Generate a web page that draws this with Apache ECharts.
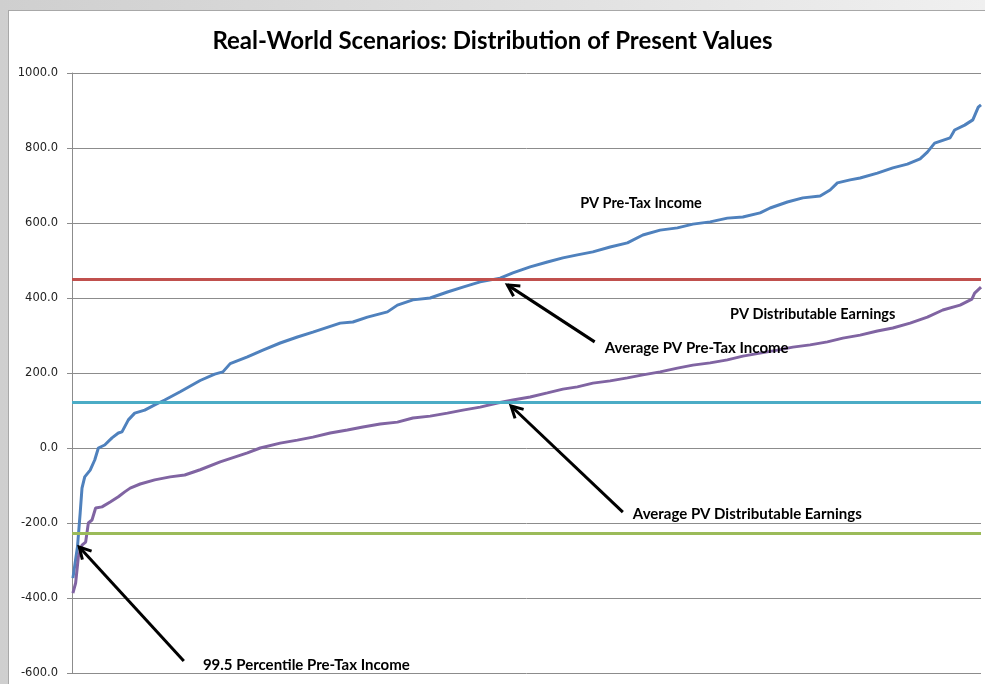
<!DOCTYPE html>
<html>
<head>
<meta charset="utf-8">
<script src="https://cdn.jsdelivr.net/npm/echarts@6/dist/echarts.min.js"></script>
<style>
  html, body { margin: 0; padding: 0; width: 985px; height: 684px; overflow: hidden; }
  body { background: linear-gradient(to right, #cfcfcf 0%, #e2e2e2 60%, #f0f0f0 100%); position: relative; }
  #frame { position: absolute; left: 8px; top: 10px; width: 1000px; height: 700px; background: #ffffff; border: 1px solid #a8a8a8; box-sizing: border-box; }
  #chart { position: absolute; left: 0; top: 0; width: 985px; height: 684px; }
</style>
</head>
<body>
<div id="frame"></div>
<div id="chart"></div>
<script>
// ---- data ----
const titleText = 'Real-World Scenarios: Distribution of Present Values';
const yTicks = [-600, -400, -200, 0, 200, 400, 600, 800, 1000];

// PV Pre-Tax Income, sorted scenarios (scenario rank, value)
const preTaxRank = [1, 6, 9, 11, 14, 20, 25, 29, 36, 44, 51, 55, 62, 69, 80, 91, 102, 119, 141, 157, 166, 174, 193, 210, 229, 248, 265, 295, 309, 325, 347, 358, 375, 394, 413, 430, 449, 471, 485, 504, 523, 540, 556, 573, 592, 611, 628, 647, 666, 683, 702, 721, 738, 757, 768, 787, 804, 823, 834, 842, 856, 867, 886, 903, 919, 933, 941, 949, 966, 971, 982, 991, 997, 1000];
const preTaxValue = [-347, -264, -173, -107, -77, -59, -32, 0, 8, 27, 40, 43, 75, 93, 101, 115, 128, 150, 180, 197, 203, 225, 243, 261, 280, 296, 309, 333, 336, 349, 363, 381, 395, 400, 416, 429, 443, 453, 467, 483, 496, 507, 515, 523, 536, 547, 568, 581, 587, 597, 603, 613, 616, 627, 640, 656, 667, 672, 688, 707, 715, 720, 733, 747, 757, 771, 789, 813, 827, 848, 861, 875, 909, 915];

// PV Distributable Earnings, sorted scenarios (scenario rank, value)
const distRank = [1, 4, 7, 11, 15, 18, 22, 26, 33, 42, 51, 58, 64, 75, 91, 108, 124, 141, 163, 193, 207, 229, 248, 265, 284, 303, 320, 339, 358, 375, 394, 413, 430, 449, 468, 485, 504, 523, 540, 556, 573, 592, 611, 628, 647, 666, 683, 702, 721, 738, 757, 776, 793, 812, 831, 848, 867, 886, 903, 922, 941, 958, 977, 990, 993, 1000];
const distValue = [-387, -360, -290, -259, -251, -200, -192, -160, -157, -144, -130, -117, -107, -96, -85, -77, -72, -58, -37, -13, 0, 13, 21, 29, 40, 48, 56, 64, 69, 80, 85, 93, 101, 109, 120, 128, 136, 147, 157, 163, 173, 179, 187, 195, 203, 213, 221, 227, 235, 245, 253, 261, 269, 275, 283, 293, 301, 312, 320, 333, 349, 368, 381, 397, 413, 429];

// reference levels
const avgPvPreTax = 451;
const avgPvDist = 123;
const pct995PreTax = -227;
const scenarioCount = 1000;

// ---- chart ----
const preTaxData = preTaxRank.map((r, i) => [r, preTaxValue[i]]);
const distData = distRank.map((r, i) => [r, distValue[i]]);

const chart = echarts.init(document.getElementById('chart'), null, { renderer: 'canvas' });

const hLine = (val, color) => ({
  silent: true, symbol: 'none', label: { show: false },
  lineStyle: { color: color, width: 3, type: 'solid' },
  data: [{ yAxis: val }]
});

chart.setOption({
  backgroundColor: 'transparent',
  animation: false,
  title: {
    text: titleText, left: 'center', top: 24,
    textStyle: { fontFamily: 'Lato', fontWeight: 'bold', fontSize: 24, color: '#000' }
  },
  grid: { left: 72, right: 4, top: 73, bottom: 11 },
  xAxis: {
    type: 'value', min: 0, max: scenarioCount,
    axisLine: { show: false }, axisTick: { show: false },
    axisLabel: { show: false }, splitLine: { show: false }
  },
  yAxis: {
    type: 'value', min: yTicks[0], max: yTicks[yTicks.length - 1], interval: 200,
    axisLine: { show: true, lineStyle: { color: '#8c8c8c', width: 1 } },
    axisTick: { show: true, length: 5, lineStyle: { color: '#8c8c8c' } },
    axisLabel: {
      formatter: v => v.toFixed(1), margin: 14,
      fontFamily: 'DejaVu Sans', fontSize: 11.5, color: '#222'
    },
    splitLine: { show: true, lineStyle: { color: '#8c8c8c', width: 1 } }
  },
  series: [
    { name: 'PV Pre-Tax Income', type: 'line', data: preTaxData, showSymbol: false,
      lineStyle: { color: '#4F81BD', width: 3 }, z: 3 },
    { name: 'PV Distributable Earnings', type: 'line', data: distData, showSymbol: false,
      lineStyle: { color: '#8064A2', width: 3 }, z: 3 },
    { name: 'Average PV Pre-Tax Income', type: 'line', data: [], markLine: hLine(avgPvPreTax, '#C0504D'), z: 4 },
    { name: 'Average PV Distributable Earnings', type: 'line', data: [], markLine: hLine(avgPvDist, '#4BACC6'), z: 4 },
    { name: '99.5 Percentile Pre-Tax Income', type: 'line', data: [], markLine: hLine(pct995PreTax, '#9BBB59'), z: 4 }
  ]
});

// ---- annotations (placed in data coordinates) ----
const labels = [
  { text: 'PV Pre-Tax Income', at: [559, 653], size: 14.5 },
  { text: 'PV Distributable Earnings', at: [724, 357], size: 14.5 },
  { text: 'Average PV Pre-Tax Income', at: [586, 267], size: 15 },
  { text: 'Average PV Distributable Earnings', at: [617, -176], size: 15 },
  { text: '99.5 Percentile Pre-Tax Income', at: [144, -579], size: 15 }
];
const arrows = [
  { from: [575, 283], to: [479, 435] },
  { from: [606, -171], to: [483, 112] },
  { from: [123, -568], to: [8, -264] }
];

const px = p => chart.convertToPixel({ gridIndex: 0 }, p);
const graphics = [];
labels.forEach(l => {
  const p = px(l.at);
  graphics.push({
    type: 'text', x: p[0], y: p[1], z: 100,
    style: { text: l.text, fill: '#000', font: 'bold ' + l.size + 'px Lato', textVerticalAlign: 'middle', verticalAlign: 'middle' }
  });
});
arrows.forEach(a => {
  const f = px(a.from), t = px(a.to);
  const ang = Math.atan2(f[1] - t[1], f[0] - t[0]);
  const hl = 13, spread = 0.5;
  const h1 = [t[0] + hl * Math.cos(ang + spread), t[1] + hl * Math.sin(ang + spread)];
  const h2 = [t[0] + hl * Math.cos(ang - spread), t[1] + hl * Math.sin(ang - spread)];
  graphics.push({ type: 'polyline', z: 100, shape: { points: [f, t] }, style: { stroke: '#000', lineWidth: 3, fill: null } });
  graphics.push({ type: 'polyline', z: 100, shape: { points: [h1, t, h2] }, style: { stroke: '#000', lineWidth: 3, fill: null, lineJoin: 'miter' } });
});
chart.setOption({ graphic: graphics });
</script>
</body>
</html>
